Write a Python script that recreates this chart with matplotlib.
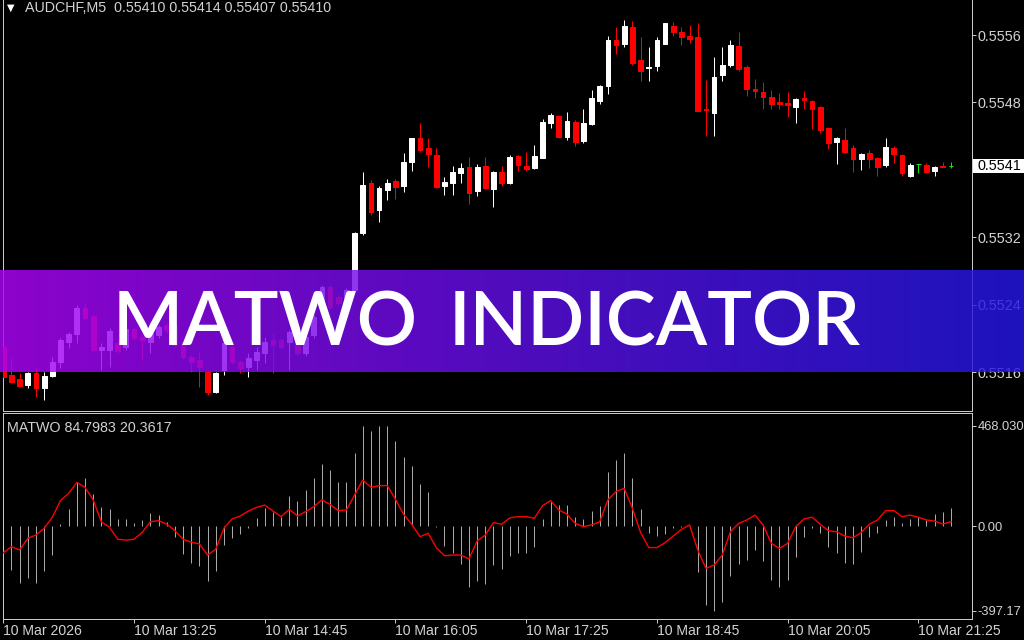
import numpy as np
import matplotlib
matplotlib.use("Agg")
import matplotlib.pyplot as plt
from matplotlib.patches import Rectangle
from matplotlib.colors import LinearSegmentedColormap

# ---------------- data (prices in points, 1 point = 0.00001) ----------------
open_pts = [55195, 55161, 55157, 55150, 55164, 55146, 55160, 55177, 55201, 55210,
            55241, 55231, 55191, 55191, 55199, 55195, 55216, 55207, 55201, 55209,
            55221, 55221, 55199, 55183, 55179, 55165, 55141, 55167, 55195, 55177,
            55171, 55179, 55188, 55203, 55203, 55201, 55199, 55188, 55209, 55247,
            55266, 55254, 55247, 55262, 55330, 55389, 55357, 55381, 55392, 55386,
            55414, 55443, 55431, 55423, 55386, 55389, 55401, 55408, 55380, 55410,
            55382, 55402, 55389, 55421, 55410, 55407, 55419, 55461, 55469, 55444,
            55462, 55439, 55459, 55487, 55504, 55559, 55554, 55575, 55535, 55526,
            55528, 55554, 55576, 55569, 55564, 55563, 55477, 55472, 55518, 55529,
            55552, 55527, 55501, 55497, 55491, 55485, 55484, 55480, 55490, 55487,
            55480, 55455, 55438, 55440, 55431, 55418, 55425, 55419, 55411, 55431,
            55423, 55398, 55412, 55411, 55404, 55410, 55410]
high_pts = [55197, 55183, 55164, 55165, 55170, 55165, 55183, 55205, 55212, 55245,
            55247, 55233, 55199, 55217, 55203, 55218, 55218, 55211, 55214, 55221,
            55224, 55223, 55202, 55185, 55189, 55167, 55165, 55205, 55197, 55179,
            55188, 55195, 55207, 55211, 55205, 55215, 55202, 55209, 55233, 55268,
            55268, 55258, 55265, 55331, 55402, 55393, 55386, 55394, 55394, 55425,
            55443, 55461, 55443, 55431, 55396, 55410, 55413, 55420, 55412, 55420,
            55404, 55410, 55423, 55423, 55426, 55434, 55465, 55472, 55469, 55474,
            55464, 55477, 55500, 55506, 55564, 55575, 55583, 55582, 55563, 55551,
            55563, 55579, 55580, 55575, 55577, 55579, 55512, 55539, 55551, 55559,
            55569, 55529, 55513, 55509, 55500, 55496, 55497, 55490, 55499, 55488,
            55481, 55456, 55444, 55455, 55434, 55425, 55428, 55420, 55443, 55433,
            55424, 55413, 55412, 55413, 55410, 55414, 55414]
low_pts = [55158, 55152, 55147, 55146, 55135, 55132, 55159, 55170, 55193, 55199,
           55227, 55189, 55167, 55171, 55188, 55191, 55203, 55179, 55188, 55205,
           55211, 55195, 55180, 55165, 55147, 55138, 55140, 55161, 55175, 55164,
           55159, 55167, 55176, 55164, 55192, 55167, 55185, 55184, 55205, 55243,
           55240, 55243, 55245, 55260, 55328, 55351, 55343, 55369, 55370, 55379,
           55404, 55426, 55408, 55383, 55375, 55375, 55389, 55364, 55374, 55382,
           55361, 55386, 55388, 55404, 55404, 55406, 55419, 55455, 55443, 55440,
           55433, 55437, 55458, 55483, 55495, 55542, 55551, 55529, 55510, 55510,
           55522, 55554, 55564, 55553, 55556, 55475, 55445, 55445, 55510, 55527,
           55522, 55493, 55490, 55477, 55477, 55477, 55468, 55461, 55477, 55453,
           55449, 55430, 55412, 55425, 55402, 55405, 55407, 55398, 55408, 55413,
           55398, 55396, 55401, 55401, 55398, 55408, 55407]
close_pts = [55159, 55153, 55148, 55164, 55146, 55160, 55177, 55203, 55210, 55241,
             55229, 55191, 55195, 55214, 55190, 55216, 55205, 55203, 55211, 55218,
             55215, 55197, 55183, 55177, 55171, 55141, 55164, 55199, 55177, 55170,
             55182, 55189, 55201, 55197, 55195, 55212, 55188, 55207, 55230, 55266,
             55242, 55247, 55262, 55330, 55387, 55355, 55383, 55389, 55385, 55414,
             55443, 55428, 55424, 55385, 55391, 55402, 55407, 55377, 55408, 55383,
             55402, 55389, 55420, 55411, 55406, 55421, 55462, 55470, 55444, 55463,
             55438, 55461, 55490, 55504, 55559, 55553, 55576, 55532, 55522, 55527,
             55559, 55579, 55569, 55563, 55560, 55475, 55476, 55515, 55529, 55553,
             55525, 55501, 55499, 55491, 55483, 55483, 55482, 55489, 55488, 55477,
             55452, 55437, 55443, 55426, 55418, 55424, 55418, 55408, 55432, 55424,
             55401, 55411, 55412, 55402, 55408, 55408, 55410]

matwo_hist = [-187, -206, -268, -245, -268, -211, -136, 8, 80, 207,
              223, 148, 90, 81, 33, 33, 12, 28, 59, 51,
              20, -53, -133, -172, -187, -257, -209, -89, -58, -37,
              -11, 36, 83, 67, 41, 142, 119, 168, 223, 290,
              262, 207, 207, 340, 466, 445, 466, 468.03, 399, 324,
              281, 197, 158, -5, -92, -128, -178, -284, -256, -271,
              -184, -203, -140, -128, -125, -100, 33, 119, 98, 98,
              41, 31, 70, 94, 254, 309, 340, 223, 80, -34,
              -47, -37, -11, -3, -15, -214, -370, -397.17, -354, -232,
              -179, -159, -112, -162, -253, -284, -253, -144, -50, -11,
              -31, -97, -128, -172, -178, -120, -53, -31, 28, 44,
              12, 31, 41, 28, 56, 67, 84.7983]
matwo_line = [-125, -97, -112, -58, -42, -11, 41, 119, 153, 204,
              181, 122, 20, -6, -62, -66, -62, -30, 20, 25,
              9, -22, -62, -76, -84, -136, -109, -11, 33, 47,
              70, 87, 98, 70, 44, 78, 47, 67, 90, 122,
              101, 72, 75, 145, 215, 181, 189, 189, 125, 55,
              8, -50, -34, -101, -139, -136, -136, -154, -70, -42,
              16, 8, 38, 44, 44, 36, 95, 119, 75, 55,
              12, -3, 5, 20, 122, 161, 176, 83, -30, -101,
              -101, -78, -47, -16, 5, -112, -198, -183, -136, -27,
              12, 28, 51, 5, -81, -105, -81, -3, 33, 41,
              8, -22, -27, -47, -55, -31, 8, 28, 72, 72,
              44, 51, 41, 28, 23, 9, 20.3617]

time_tick_bars = [0, 16, 32, 48, 64, 80, 96, 112]
time_tick_labels = ["10 Mar 2026", "10 Mar 13:25", "10 Mar 14:45", "10 Mar 16:05",
                    "10 Mar 17:25", "10 Mar 18:45", "10 Mar 20:05", "10 Mar 21:25"]
price_ticks = [0.55565, 0.55485, 0.55405, 0.55325, 0.55245, 0.55165]
price_tick_labels = ["0.5556", "0.5548", "", "0.5532", "0.5524", "0.5516"]
ind_ticks = [468.030, 0.0, -397.17]
ind_tick_labels = ["468.030", "0.00", "-397.17"]

symbol_header = "AUDCHF,M5  0.55410 0.55414 0.55407 0.55410"
ind_header = "MATWO 84.7983 20.3617"
last_price = 0.55410
last_price_label = "0.5541"
banner_text = ["MATWO", "INDICATOR"]

# ---------------- figure ----------------
W, H = 1024, 640
fig = plt.figure(figsize=(W / 100, H / 100), dpi=100, facecolor="black")
FONT = "Liberation Sans"
TXT = "#d2d2d2"
BORDER = "#c8c8c8"
PX = 0.72  # one pixel in points


def px_rect(x0, y0, x1, y1):
    return [x0 / W, 1 - y1 / H, (x1 - x0) / W, (y1 - y0) / H]


n = len(open_pts)
x = np.arange(n)
o = np.array(open_pts) / 1e5
h = np.array(high_pts) / 1e5
l = np.array(low_pts) / 1e5
c = np.array(close_pts) / 1e5

XL = (-0.0734, 118.57)
YL = (0.5511908, 0.5560893)

# main pane
ax = fig.add_axes(px_rect(2.7, -2, 972, 410.7))
ax.set_facecolor("black")
ax.set_xlim(*XL)
ax.set_ylim(*YL)
cols = np.where(c > o, "#ffffff", np.where(c < o, "#ff0000", "#19e019"))
ax.vlines(x, l, h, colors=cols, linewidth=PX, zorder=2)
ax.bar(x, c - o, bottom=o, width=0.58, color=cols, edgecolor=cols,
       linewidth=PX, zorder=3)
ax.spines["top"].set_visible(False)
for s in ["left", "right", "bottom"]:
    ax.spines[s].set_color(BORDER)
    ax.spines[s].set_linewidth(PX)
ax.set_xticks([])
ax.yaxis.tick_right()
ax.set_yticks(price_ticks)
ax.set_yticklabels(price_tick_labels)
ax.tick_params(axis="y", length=4 * PX, width=PX, color=BORDER, pad=1.2,
               labelsize=10.4, labelcolor=TXT)
for t in ax.get_yticklabels():
    t.set_fontfamily(FONT)

# last price box (white box to the right edge, black label)
pos = ax.get_position()
frac = (last_price - YL[0]) / (YL[1] - YL[0])
yc = pos.y0 + frac * pos.height
box_h = 14 / H
fig.patches.append(Rectangle((973 / W, yc - box_h / 2), (W - 973) / W, box_h,
                             transform=fig.transFigure, facecolor="white",
                             edgecolor="none", zorder=5))
fig.text(977 / W, yc, last_price_label, fontsize=10.4, family=FONT,
         color="black", va="center", ha="left", zorder=6)

fig.text(7 / W, 1 - 10.5 / H, "\u25BC", fontsize=7, color="white",
         family="DejaVu Sans", va="baseline")
fig.text(25 / W, 1 - 12.5 / H, symbol_header, fontsize=10.3, family=FONT,
         color=TXT, va="baseline")

# indicator pane
ai = fig.add_axes(px_rect(2.7, 413.3, 972, 619.3))
ai.set_facecolor("black")
ai.set_xlim(*XL)
ai.set_ylim(-436.6, 527.4)
ai.vlines(x, 0, matwo_hist, colors="#a9a9a9", linewidth=PX, zorder=2)
ai.plot(x, matwo_line, color="#ff0000", linewidth=1.0, zorder=3)
for s in ai.spines.values():
    s.set_color(BORDER)
    s.set_linewidth(PX)
ai.yaxis.tick_right()
ai.set_yticks(ind_ticks)
ai.set_yticklabels(ind_tick_labels)
ai.tick_params(axis="y", length=4 * PX, width=PX, color=BORDER, pad=1.2,
               labelsize=9.3, labelcolor=TXT)
ai.set_xticks(time_tick_bars)
ai.set_xticklabels(time_tick_labels)
ai.tick_params(axis="x", length=4 * PX, width=PX, color=BORDER, pad=0.5,
               labelsize=10.1, labelcolor=TXT)
for t in ai.get_xticklabels():
    t.set_ha("left")
    t.set_fontfamily(FONT)
for t in ai.get_yticklabels():
    t.set_fontfamily(FONT)
ai.text(0.0045, 1 - (431.5 - 413.3) / 206, ind_header, transform=ai.transAxes,
        fontsize=10.3, family=FONT, color=TXT, va="baseline")

# banner
ab = fig.add_axes(px_rect(0, 270, 1024, 372.5))
ab.set_axis_off()
cmap = LinearSegmentedColormap.from_list(
    "ban", [(0.0, "#ac04f8"), (0.5, "#600fe6"), (1.0, "#2418e4")])
grad = np.linspace(0, 1, 512)[None, :]
ab.imshow(grad, cmap=cmap, aspect="auto", alpha=0.83, extent=(0, 1, 0, 1),
          interpolation="bilinear")
ab.set_xlim(0, 1)
ab.set_ylim(0, 1)
for word, xc in zip(banner_text, [265, 655]):
    ab.text(xc / W, (372.5 - 345) / 102.5, word, transform=ab.transAxes,
            fontsize=54, family="Lato", fontweight=600, color="white",
            ha="center", va="baseline")

fig.savefig("out.png", dpi=100, facecolor="black")
